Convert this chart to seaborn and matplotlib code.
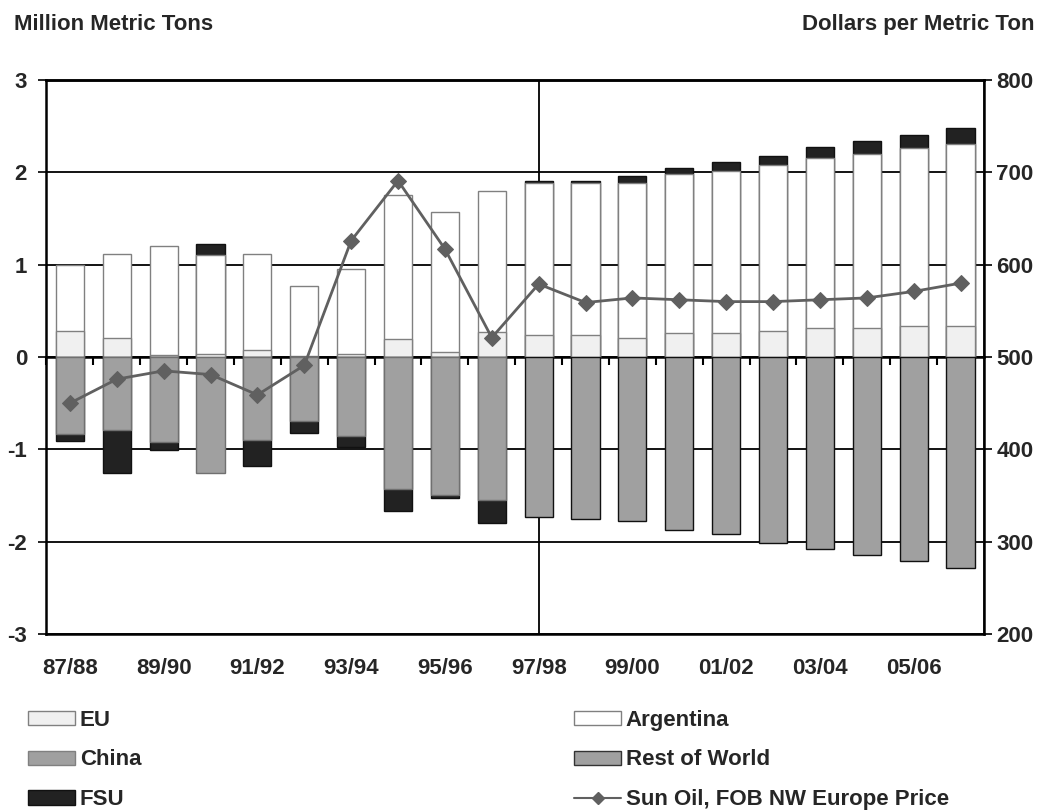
import numpy as np
import matplotlib
matplotlib.use("Agg")
import matplotlib.pyplot as plt
from matplotlib.patches import Patch
from matplotlib.lines import Line2D
from matplotlib.ticker import FixedLocator, FixedFormatter
import seaborn as sns

# --- data ---
seasons = ["87/88", "88/89", "89/90", "90/91", "91/92", "92/93", "93/94", "94/95",
           "95/96", "96/97", "97/98", "98/99", "99/00", "00/01", "01/02", "02/03",
           "03/04", "04/05", "05/06", "06/07"]
tick_labels = [s if i % 2 == 0 else "" for i, s in enumerate(seasons)]

eu = [0.28, 0.21, 0.02, 0.03, 0.08, 0.01, 0.03, 0.19, 0.05, 0.27,
      0.235, 0.235, 0.21, 0.265, 0.265, 0.285, 0.31, 0.31, 0.335, 0.335]
argentina = [0.72, 0.91, 1.18, 1.07, 1.04, 0.76, 0.92, 1.57, 1.52, 1.53,
             1.655, 1.655, 1.67, 1.715, 1.755, 1.80, 1.845, 1.89, 1.93, 1.975]
fsu = [-0.08, -0.47, -0.09, 0.12, -0.28, -0.13, -0.12, -0.24, -0.04, -0.25,
       0.02, 0.02, 0.08, 0.07, 0.095, 0.095, 0.115, 0.135, 0.135, 0.165]
china = [-0.83, -0.79, -0.92, -1.26, -0.90, -0.69, -0.86, -1.43, -1.49, -1.55,
         0, 0, 0, 0, 0, 0, 0, 0, 0, 0]
rest_of_world = [0, 0, 0, 0, 0, 0, 0, 0, 0, 0,
                 -1.73, -1.75, -1.78, -1.87, -1.92, -2.01, -2.08, -2.14, -2.21, -2.28]
sun_oil_price = [450, 476, 485, 481, 459, 491, 626, 691, 617, 521,
                 579, 559, 564, 562, 560, 560, 562, 564, 571, 580]

# colours
c_eu, c_arg, c_fsu = "#F0F0F0", "#FFFFFF", "#222222"
c_china, c_row, c_line = "#A0A0A0", "#A0A0A0", "#606060"

sns.set_theme(style="white")
plt.rcParams['font.family'] = ['Liberation Sans', 'DejaVu Sans']
plt.rcParams['font.weight'] = 'bold'
plt.rcParams['axes.unicode_minus'] = False

FS = 16

fig = plt.figure(figsize=(10.42, 8.10), dpi=100)
ax = fig.add_axes([0.0446, 0.2173, 0.8997, 0.6839])
ax2 = ax.twinx()

# stacked heights
eu_a = np.array(eu)
arg_a = np.array(argentina)
fsu_a = np.array(fsu)
china_a = np.array(china)
row_a = np.array(rest_of_world)

pos_eu_arg = eu_a + arg_a
pos_total = np.where(fsu_a > 0, pos_eu_arg + fsu_a, np.nan)
neg_gray = china_a + row_a
neg_total = np.where(fsu_a < 0, neg_gray + fsu_a, np.nan)


def bars(vals, color, edge):
    sns.barplot(x=seasons, y=vals, order=seasons, color=color, saturation=1,
                width=0.6, edgecolor=edge, linewidth=1.0, errorbar=None, ax=ax, zorder=3)


# positive side, drawn top-down so lower layers cover upper ones
bars(pos_total, c_fsu, "#111111")
bars(pos_eu_arg, c_arg, "#808080")
bars(eu_a, c_eu, "#808080")
# negative side
bars(neg_total, c_fsu, "#111111")
bars(np.where(row_a < 0, neg_gray, np.nan), c_row, "#111111")
bars(np.where(china_a < 0, china_a, np.nan), c_china, "#707070")

# reference grid and the history / projection divider
ax.set_axisbelow(True)
ax.set_ylim(-3, 3)
ax.set_yticks([-3, -2, -1, 0, 1, 2, 3])
ax.yaxis.grid(True, color="black", linewidth=1.3)
ax.axvline(10, color="black", linewidth=1.3, zorder=1)
ax.set_xlim(-0.5, 19.5)

# x axis sits on zero: ticks up at bar centres, down between bars
ax.spines['bottom'].set_position(('data', 0))
ax.xaxis.set_major_locator(FixedLocator(np.arange(len(seasons))))
ax.xaxis.set_major_formatter(FixedFormatter(tick_labels))
ax.xaxis.set_minor_locator(FixedLocator(np.arange(len(seasons)) - 0.5))
ax.tick_params(axis='x', which='major', direction='in', length=6, width=1.5,
               color="black", labelbottom=False, bottom=True)
ax.tick_params(axis='x', which='minor', direction='out', length=6, width=1.5,
               color="black", bottom=True)
ax.tick_params(axis='y', direction='out', length=6, width=1.2, color="black",
               labelsize=FS, pad=8, left=True)
ax.set_xlabel("")
ax.set_ylabel("")
for s in ['left', 'bottom', 'top']:
    ax.spines[s].set_color("black")
    ax.spines[s].set_linewidth(1.8)

# price line on the right axis
sns.lineplot(x=np.arange(len(seasons)), y=sun_oil_price, ax=ax2, color=c_line,
             linewidth=2, marker="D", markersize=8, markeredgecolor=c_line,
             markerfacecolor=c_line, zorder=5)
ax2.set_ylim(200, 800)
ax2.set_yticks([200, 300, 400, 500, 600, 700, 800])
ax2.tick_params(axis='y', direction='out', length=6, width=1.2, color="black",
                labelsize=FS, pad=3, right=True)
ax2.set_ylabel("")
ax2.xaxis.set_visible(True)
ax2.tick_params(axis='x', which='both', length=0, labelsize=FS, pad=17,
                labelbottom=True)
ax2.set_xlim(-0.5, 19.5)
for s in ax2.spines.values():
    s.set_color("black")
    s.set_linewidth(1.8)
ax2.spines['left'].set_visible(False)

# axis titles
fig.text(0.013, 0.970, "Million Metric Tons", fontsize=FS, fontweight='bold',
         ha='left', va='center')
fig.text(0.993, 0.970, "Dollars per Metric Ton", fontsize=FS, fontweight='bold',
         ha='right', va='center')

# legend in two columns
def patch(fc, ec):
    return Patch(facecolor=fc, edgecolor=ec, linewidth=1)

left_handles = [patch(c_eu, "#808080"), patch(c_china, "#808080"), patch(c_fsu, "#111111")]
left_labels = ["EU", "China", "FSU"]
right_handles = [patch(c_arg, "#808080"), patch(c_row, "#333333"),
                 Line2D([0], [0], color=c_line, linewidth=1.5, marker="D",
                        markersize=6, markerfacecolor=c_line)]
right_labels = ["Argentina", "Rest of World", "Sun Oil, FOB NW Europe Price"]

leg_kw = dict(frameon=False, fontsize=FS, handlelength=2.15, handleheight=0.6,
              handletextpad=0.2, labelspacing=0.85, borderaxespad=0)
fig.legend(left_handles, left_labels, loc='upper left',
           bbox_to_anchor=(0.018, 0.135), **leg_kw)
fig.legend(right_handles, right_labels, loc='upper left',
           bbox_to_anchor=(0.542, 0.135), **leg_kw)
for lg in fig.legends:
    for t in lg.get_texts():
        t.set_fontweight('bold')

fig.savefig("out.png", dpi=100)
